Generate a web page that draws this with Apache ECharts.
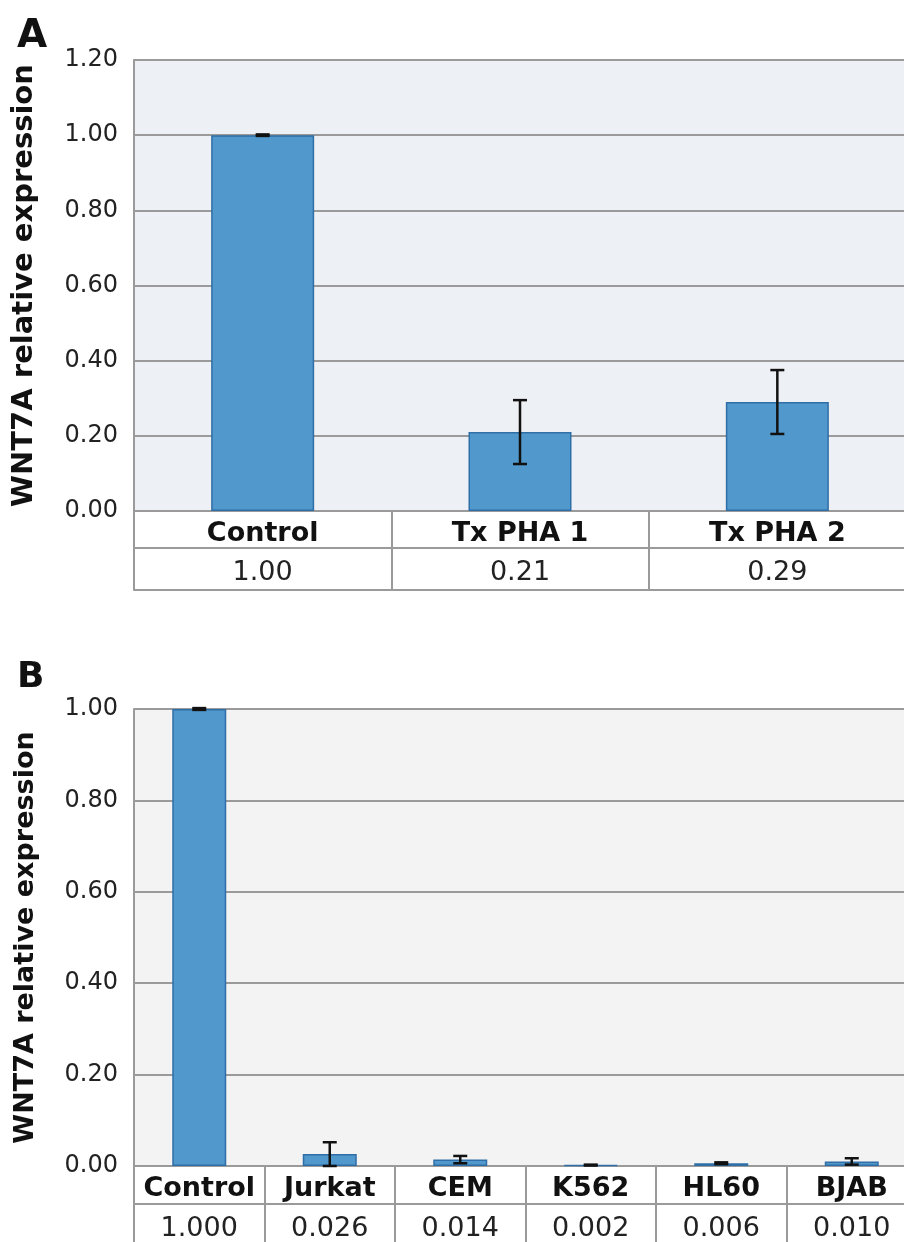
<!DOCTYPE html>
<html>
<head>
<meta charset="utf-8">
<script src="https://cdn.jsdelivr.net/npm/echarts@6/dist/echarts.min.js"></script>
<style>
html,body{margin:0;padding:0;background:#fff;}
#chart{width:904px;height:1242px;}
</style>
</head>
<body>
<div id="chart"></div>
<script>
// ---- Panel A data ----
var catsA = ['Control', 'Tx PHA 1', 'Tx PHA 2'];
var valsA = [1.00, 0.21, 0.29];
var errA  = [0.002, 0.085, 0.085];
var yTicksA = { min: 0, max: 1.2, interval: 0.2 };

// ---- Panel B data ----
var catsB = ['Control', 'Jurkat', 'CEM', 'K562', 'HL60', 'BJAB'];
var valsB = [1.000, 0.026, 0.014, 0.002, 0.006, 0.010];
var errB  = [0.002, 0.026, 0.008, 0.001, 0.002, 0.007];
var yTicksB = { min: 0, max: 1.0, interval: 0.2 };

var yName = 'WNT7A relative expression';

var FONT = 'DejaVu Sans';
var GRID_LINE = '#9a9a9a';
var BAR_FILL = '#5199cc';
var BAR_EDGE = '#2f6ea6';

var labelsA = valsA.map(function (v) { return v.toFixed(2); });
var labelsB = valsB.map(function (v) { return v.toFixed(3); });

function errData(vals, errs) {
  return vals.map(function (v, i) { return [i, Math.max(0, v - errs[i]), v + errs[i]]; });
}

function errRender(params, api) {
  var x = api.value(0);
  var pLo = api.coord([x, api.value(1)]);
  var pHi = api.coord([x, api.value(2)]);
  var hw = 7;
  var st = { stroke: '#111', lineWidth: 2.5 };
  return {
    type: 'group',
    children: [
      { type: 'line', shape: { x1: pHi[0], y1: pHi[1], x2: pLo[0], y2: pLo[1] }, style: st },
      { type: 'line', shape: { x1: pHi[0] - hw, y1: pHi[1], x2: pHi[0] + hw, y2: pHi[1] }, style: st },
      { type: 'line', shape: { x1: pLo[0] - hw, y1: pLo[1], x2: pLo[0] + hw, y2: pLo[1] }, style: st }
    ]
  };
}

function xAxes(gridIndex, cats, labels, mid, bottom) {
  var line = { show: true, lineStyle: { color: GRID_LINE, width: 2 } };
  return [
    {
      gridIndex: gridIndex, type: 'category', data: cats, position: 'bottom', offset: 0,
      axisLine: line,
      axisTick: { show: true, length: bottom, lineStyle: { color: GRID_LINE, width: 2 } },
      axisLabel: { interval: 0, margin: 4, fontFamily: FONT, fontWeight: 'bold', fontSize: 27, color: '#111', lineHeight: mid },
      splitLine: { show: false }
    },
    {
      gridIndex: gridIndex, type: 'category', data: labels, position: 'bottom', offset: mid,
      axisLine: line,
      axisTick: { show: false },
      axisLabel: { interval: 0, margin: 4, fontFamily: FONT, fontSize: 27, color: '#222', lineHeight: 41 },
      splitLine: { show: false }
    },
    {
      gridIndex: gridIndex, type: 'category', data: cats, position: 'bottom', offset: bottom,
      axisLine: line,
      axisTick: { show: false },
      axisLabel: { show: false },
      splitLine: { show: false }
    }
  ];
}

function yAxis(gridIndex, t, nameSize) {
  return {
    gridIndex: gridIndex, type: 'value', min: t.min, max: t.max, interval: t.interval,
    axisLine: { show: true, lineStyle: { color: GRID_LINE, width: 2 } },
    axisTick: { show: false },
    splitLine: { show: true, lineStyle: { color: GRID_LINE, width: 2 } },
    axisLabel: { formatter: function (v) { return v.toFixed(2); }, fontFamily: FONT, fontSize: 24, color: '#222', margin: 16 },
    name: yName, nameLocation: 'middle', nameGap: 95,
    nameTextStyle: { fontFamily: FONT, fontSize: nameSize, fontWeight: 'bold', color: '#111' }
  };
}

var chart = echarts.init(document.getElementById('chart'), null, { renderer: 'canvas' });
chart.setOption({
  animation: false,
  backgroundColor: '#ffffff',
  textStyle: { fontFamily: FONT },
  title: [
    { text: 'A', left: 12, top: 12, textStyle: { fontFamily: FONT, fontSize: 39, fontWeight: 'bold', color: '#111' } },
    { text: 'B', left: 12, top: 655, textStyle: { fontFamily: FONT, fontSize: 36, fontWeight: 'bold', color: '#111' } }
  ],
  grid: [
    { left: 134, top: 60, width: 772, height: 451, show: true, backgroundColor: '#edf0f5', borderWidth: 0, containLabel: false, outerBoundsMode: 'none' },
    { left: 134, top: 709, width: 783, height: 457, show: true, backgroundColor: '#f3f3f3', borderWidth: 0, containLabel: false, outerBoundsMode: 'none' }
  ],
  xAxis: xAxes(0, catsA, labelsA, 37, 79).concat(xAxes(1, catsB, labelsB, 38, 84)),
  yAxis: [yAxis(0, yTicksA, 29), yAxis(1, yTicksB, 27)],
  series: [
    {
      type: 'bar', xAxisIndex: 0, yAxisIndex: 0, data: valsA, barWidth: 103,
      itemStyle: { color: BAR_FILL, borderColor: BAR_EDGE, borderWidth: 1.5 }
    },
    {
      type: 'custom', xAxisIndex: 0, yAxisIndex: 0, data: errData(valsA, errA),
      renderItem: errRender, encode: { x: 0, y: [1, 2] }, z: 5
    },
    {
      type: 'bar', xAxisIndex: 3, yAxisIndex: 1, data: valsB, barWidth: 54,
      itemStyle: { color: BAR_FILL, borderColor: BAR_EDGE, borderWidth: 1.5 }
    },
    {
      type: 'custom', xAxisIndex: 3, yAxisIndex: 1, data: errData(valsB, errB),
      renderItem: errRender, encode: { x: 0, y: [1, 2] }, z: 5
    }
  ]
});
</script>
</body>
</html>
